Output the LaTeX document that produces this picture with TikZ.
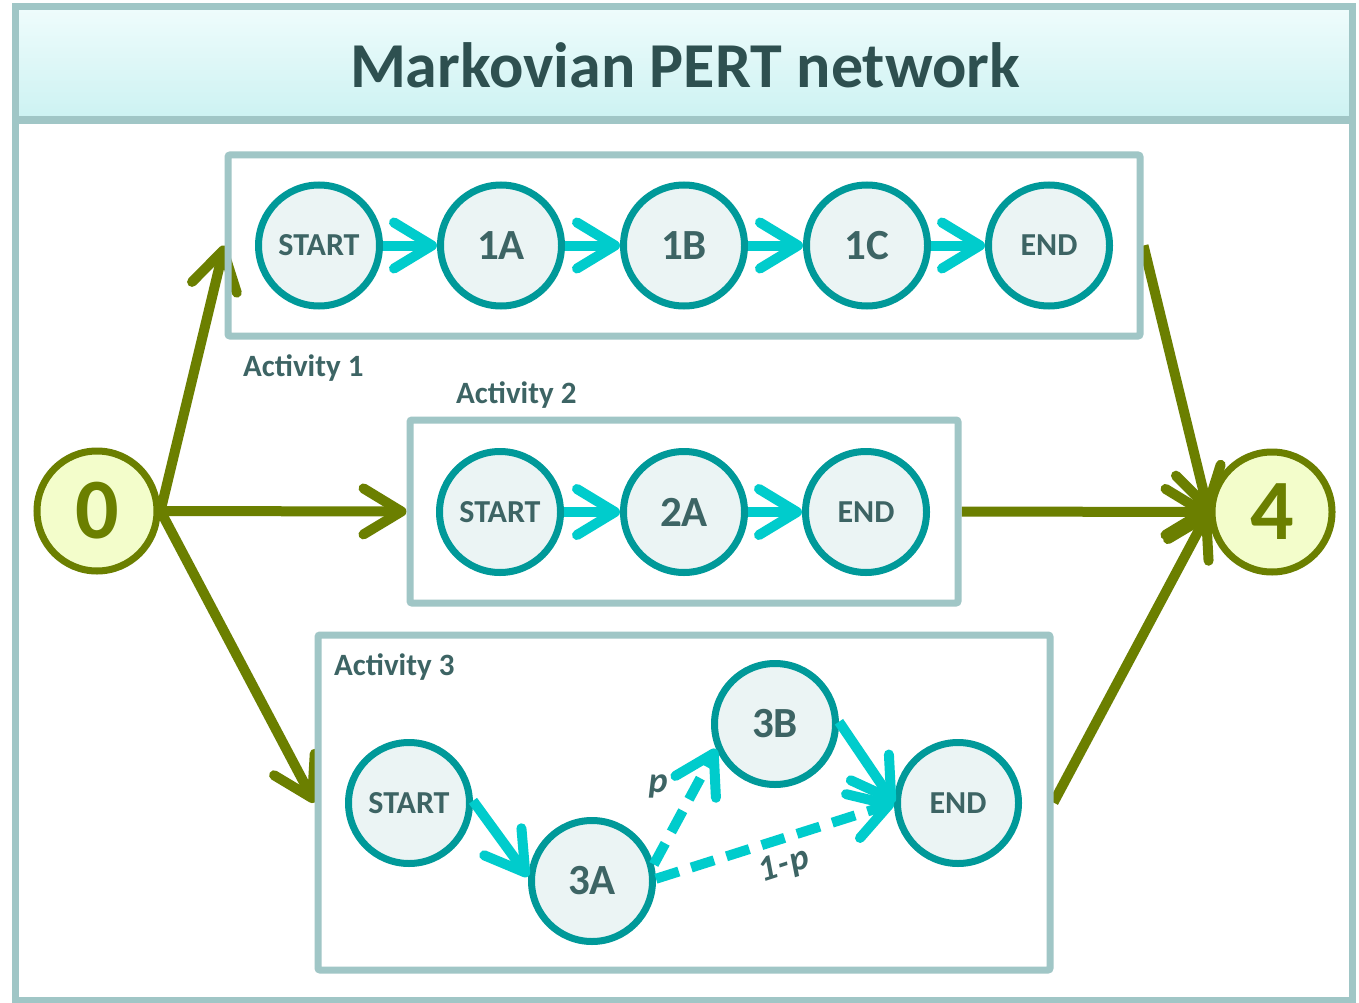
\documentclass[tikz,border=0pt]{standalone}
\usepackage{fontspec}
\setmainfont{Carlito}
\usetikzlibrary{arrows.meta}

\definecolor{framec}{HTML}{A0C6C6}
\definecolor{titlec}{HTML}{2E5050}
\definecolor{textc}{HTML}{3D6464}
\definecolor{ringc}{HTML}{009999}
\definecolor{statefill}{HTML}{EBF4F4}
\definecolor{flowc}{HTML}{00CCCC}
\definecolor{olivec}{HTML}{6B7F00}
\definecolor{milefill}{HTML}{F3FDCB}
\definecolor{bandtop}{HTML}{EFFCFC}
\definecolor{bandbot}{HTML}{CCF2F2}

\pgfdeclarelayer{bg}
\pgfsetlayers{bg,main}

\begin{document}
\begin{tikzpicture}[x=1pt,y=-1pt,
  state/.style={circle, draw=ringc, fill=statefill, line width=7pt,
    minimum size=121pt, inner sep=0pt, text=textc,
    font=\bfseries\fontsize{32}{32}\selectfont},
  bigstate/.style={state, font=\bfseries\fontsize{43}{43}\selectfont},
  milestone/.style={circle, draw=olivec, fill=milefill, line width=7pt,
    minimum size=120pt, inner sep=0pt, text=olivec,
    font=\bfseries\fontsize{86}{86}\selectfont},
  actbox/.style={draw=framec, line width=7pt, rounded corners=2pt, inner sep=0pt},
  actlabel/.style={anchor=base west, text=textc, inner sep=0pt,
    font=\bfseries\fontsize{31}{31}\selectfont},
  problabel/.style={text=textc, inner sep=0pt,
    font=\bfseries\itshape\fontsize{36}{36}\selectfont},
  flow/.style={draw=flowc, line width=10pt,
    -{Straight Barb[length=38pt,width=46pt,round]}},
  chance/.style={flow, dash pattern=on 24pt off 13pt},
  link/.style={draw=olivec, line width=10pt,
    -{Straight Barb[length=38pt,width=46pt,round]}},
]
\useasboundingbox (0,0) rectangle (1359,1003);

% page background and frame with title band
\begin{pgfonlayer}{bg}
  \fill[white] (0,0) rectangle (1359,1003);
  \shade[top color=bandtop, bottom color=bandbot] (15.5,7) rectangle (1352,120);
\end{pgfonlayer}
\draw[framec, line width=7pt] (15.5,7) rectangle (1352,1000);
\draw[framec, line width=8pt] (15.5,120) -- (1352,120);
\node[text=titlec, font=\bfseries\fontsize{64}{64}\selectfont] (title) at (685,65) {Markovian PERT network};

% activity boxes
\node[actbox, minimum width=912pt, minimum height=181pt] (box1) at (684,245.5) {};
\node[actbox, minimum width=548pt, minimum height=183pt] (box2) at (684,511.5) {};
\node[actbox, minimum width=732pt, minimum height=335pt] (box3) at (684,802.5) {};
\node[actlabel] (lab1) at (243,376) {Activity 1};
\node[actlabel] (lab2) at (456,403) {Activity 2};
\node[actlabel] (lab3) at (334,675) {Activity 3};

% milestones
\node[milestone] (n0) at (97,511) {0};
\node[milestone] (n4) at (1272,512) {4};

% activity 1
\node[state] (s1) at (319,245.5) {START};
\node[bigstate] (a1) at (501,245.5) {1A};
\node[bigstate] (b1) at (684,245.5) {1B};
\node[bigstate] (c1) at (867,245.5) {1C};
\node[state] (e1) at (1049,245.5) {END};
\draw[flow] (s1) -- (a1);
\draw[flow] (a1) -- (b1);
\draw[flow] (b1) -- (c1);
\draw[flow] (c1) -- (e1);

% activity 2
\node[state] (s2) at (500,512) {START};
\node[bigstate] (a2) at (684,512) {2A};
\node[state] (e2) at (866,512) {END};
\draw[flow] (s2) -- (a2);
\draw[flow] (a2) -- (e2);

% activity 3 with a probabilistic branch
\node[state] (s3) at (409,803) {START};
\node[bigstate] (a3) at (592,881) {3A};
\node[bigstate] (b3) at (775,724) {3B};
\node[state] (e3) at (958,803) {END};
\draw[flow] (s3.2) -- (a3.176);
\draw[flow] (b3.2) -- (e3.180);
\draw[chance] (a3.15) -- (b3.203);
\draw[chance] (a3.2) -- (e3.180);
\node[problabel] (pl) at (658,786) {p};
\node[problabel, rotate=18] (ql) at (784,866) {1\kern1.5pt-\kern1.5pt p};

% links between milestones and activities
\begin{pgfonlayer}{bg}
  \draw[link] (n0.east) -- (box1.west);
  \draw[link] (n0.east) -- (box2.west);
  \draw[link] (n0.east) -- (box3.west);
  \draw[link] (box1.east) -- (n4.west);
  \draw[link] (box2.east) -- (n4.west);
  \draw[link] (box3.east) -- (n4.west);
\end{pgfonlayer}
\end{tikzpicture}
\end{document}
